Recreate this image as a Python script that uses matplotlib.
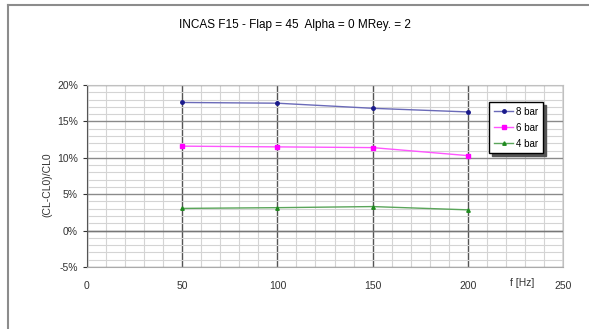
import numpy as np
import matplotlib
matplotlib.use('Agg')
import matplotlib.pyplot as plt
from matplotlib.lines import Line2D
from matplotlib.ticker import MultipleLocator, FuncFormatter

plt.rcParams['font.family'] = ['Liberation Sans', 'DejaVu Sans']

freq = [50, 100, 150, 200]
bar8 = [17.6, 17.5, 16.8, 16.3]
bar6 = [11.6, 11.5, 11.4, 10.3]
bar4 = [3.05, 3.15, 3.3, 2.85]
series = ['8 bar', '6 bar', '4 bar']
xticks = [0, 50, 100, 150, 200, 250]
yticks = [-5, 0, 5, 10, 15, 20]

fig = plt.figure(figsize=(5.89, 3.29), dpi=100)
fig.patch.set_facecolor('white')

# frame lines (top + left only, like the cropped screenshot)
fig.add_artist(Line2D([8/589, 1], [1 - 5/329, 1 - 5/329], color='#8c8c8c', lw=1.5))
fig.add_artist(Line2D([8/589, 8/589], [0, 1 - 5/329], color='#8c8c8c', lw=1.5))

ax = fig.add_axes([87/589, 1 - 267/329, 476/589, 182/329])
ax.set_xlim(0, 250)
ax.set_ylim(-5, 20)

ax.xaxis.set_major_locator(MultipleLocator(50))
ax.xaxis.set_minor_locator(MultipleLocator(10))
ax.yaxis.set_major_locator(MultipleLocator(5))
ax.yaxis.set_minor_locator(MultipleLocator(1))
ax.grid(which='minor', color='#d4d4d4', lw=0.8)
ax.grid(which='major', axis='x', color='#555555', lw=1.0)
ax.grid(which='major', axis='y', color='#8a8a8a', lw=1.0)
ax.set_axisbelow(True)
ax.axhline(0, color='#777777', lw=1.0, zorder=1)

ax.plot(freq, bar8, color='#6a6ab8', lw=1.0, marker='o', ms=2.5,
        mfc='#1a1a8c', mec='#1a1a8c', label=series[0])
ax.plot(freq, bar6, color='#ff55ff', lw=1.0, marker='s', ms=3.5,
        mfc='#ff00ff', mec='#ff00ff', label=series[1])
ax.plot(freq, bar4, color='#5aa55a', lw=1.0, marker='^', ms=2.5,
        mfc='#1f8a1f', mec='#1f8a1f', label=series[2])

ax.set_xticks(xticks)
ax.set_yticks(yticks)
ax.yaxis.set_major_formatter(FuncFormatter(lambda v, p: f'{v:.0f}%'))
ax.tick_params(axis='x', which='both', length=0, labelsize=7.5, pad=10, colors='#333333')
ax.tick_params(axis='y', which='major', length=3, labelsize=7.5, colors='#333333')
ax.tick_params(axis='y', which='minor', length=0)

for side in ['top', 'right']:
    ax.spines[side].set_color('#c0c0c0')
ax.spines['left'].set_color('#555555')
ax.spines['bottom'].set_color('#aaaaaa')

fig.text(0.5, 1 - 25/329, 'INCAS F15 - Flap = 45  Alpha = 0 MRey. = 2',
         ha='center', va='center', fontsize=8.5)
fig.text(47/589, 1 - 185/329, '(CL-CL0)/CL0', rotation=90,
         ha='center', va='center', fontsize=7.5, color='#333333')
fig.text(522/589, 1 - 283/329, 'f [Hz]', ha='center', va='center',
         fontsize=7.5, color='#333333')

leg = ax.legend(loc='upper left', bbox_to_anchor=(402/476, 1 - 17/182),
                fontsize=7, frameon=True, fancybox=False,
                shadow={'ox': 2, 'oy': -2, 'color': '#555555', 'alpha': 1.0},
                handlelength=2.0, borderpad=0.5, labelspacing=0.6,
                handletextpad=0.3, borderaxespad=0)
leg.get_frame().set_edgecolor('black')
leg.get_frame().set_linewidth(1.0)

fig.savefig('out.png', dpi=100, facecolor='white')
